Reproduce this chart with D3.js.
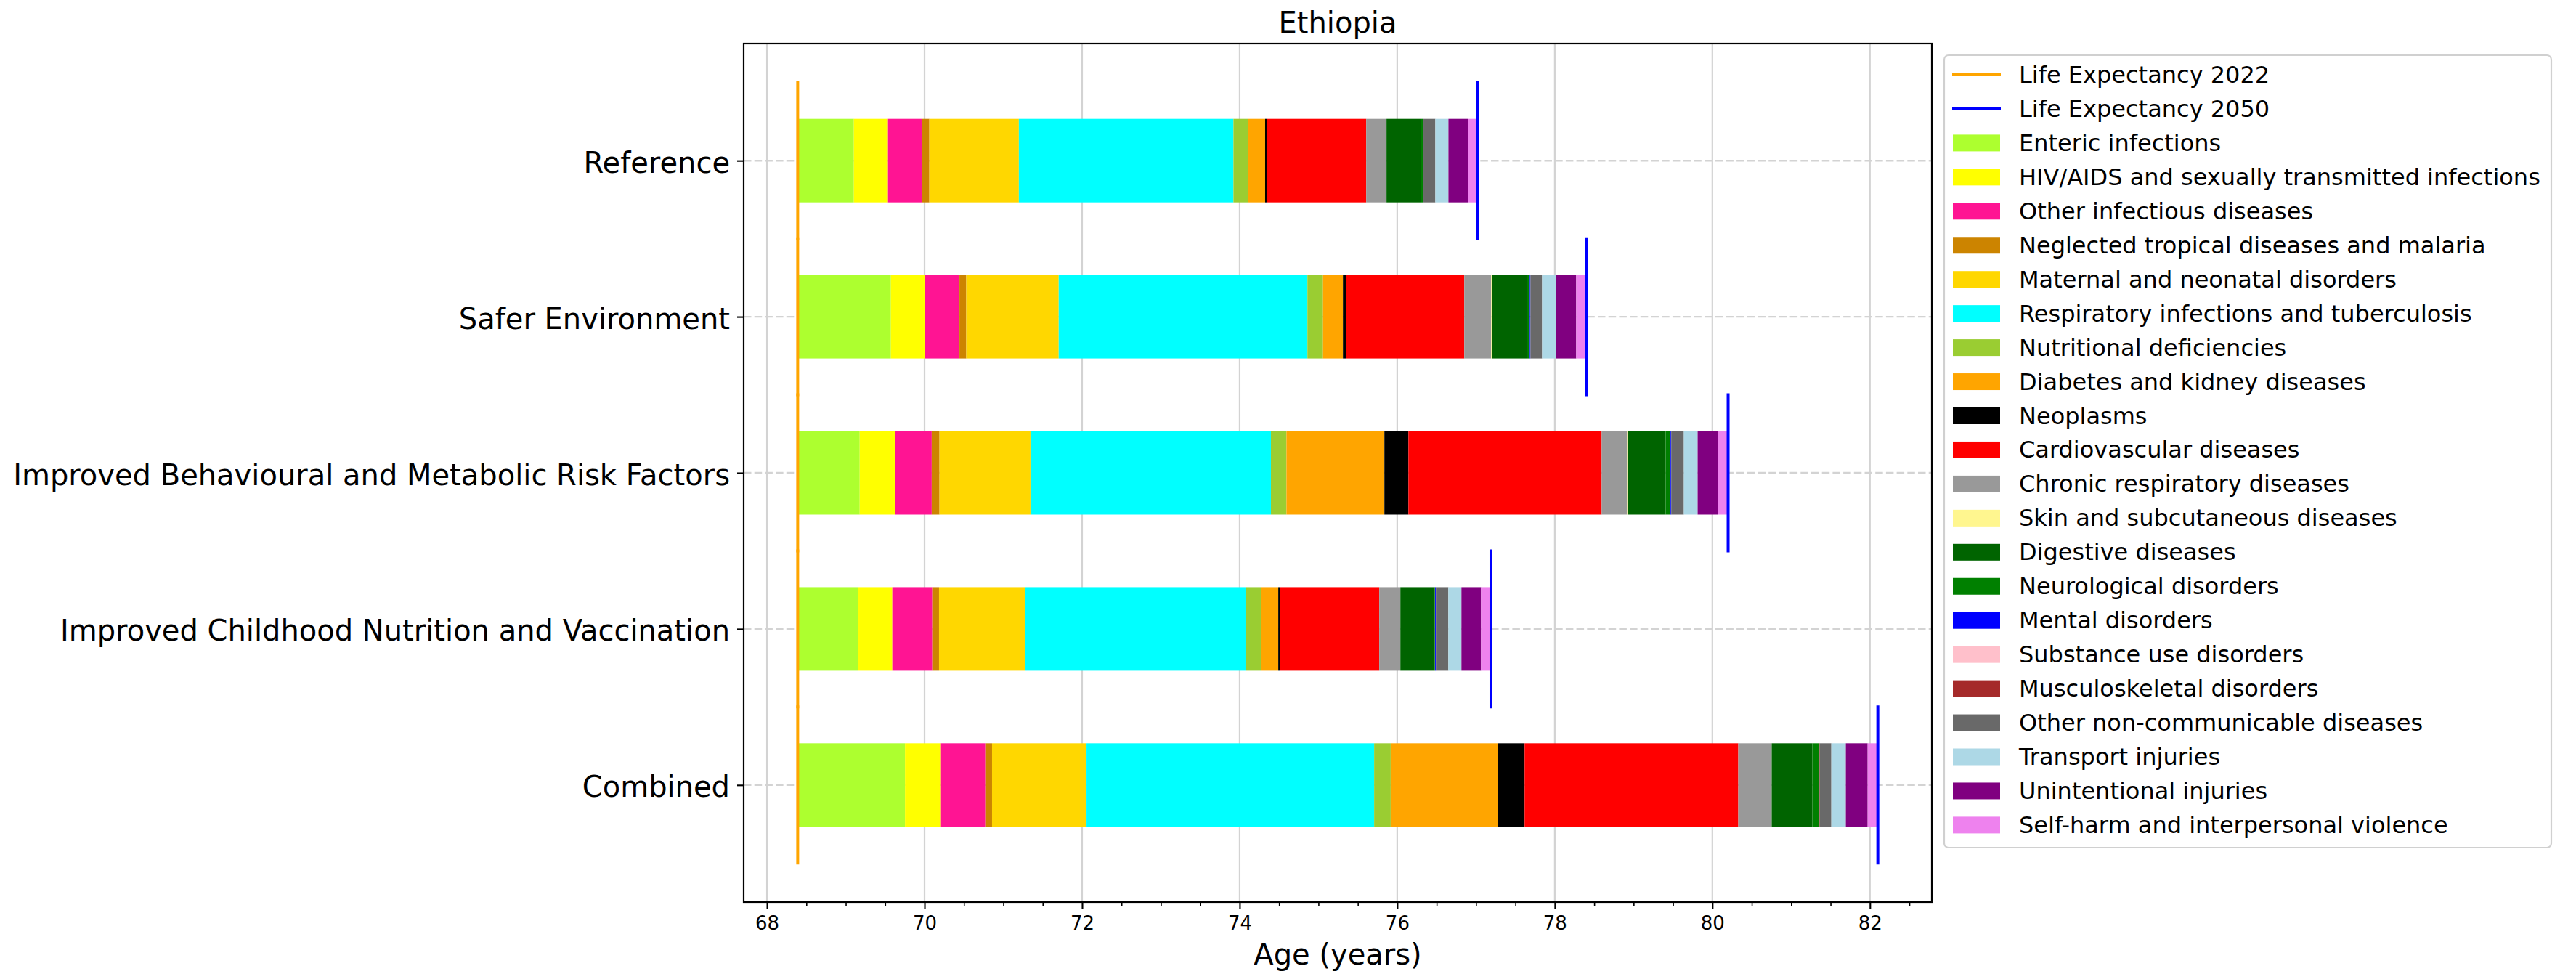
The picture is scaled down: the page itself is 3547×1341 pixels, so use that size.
<!DOCTYPE html>
<html><head><meta charset="utf-8">
<script src="https://cdn.jsdelivr.net/npm/d3@7"></script>
<style>
body{margin:0;background:#fff}
svg text{font-family:"DejaVu Sans",sans-serif;fill:#000}
</style>
</head><body>
<svg id="chart" width="3547" height="1341"></svg>
<script>
// ---------- DATA ----------
const title = "Ethiopia";
const scenarios = ["Reference", "Safer Environment", "Improved Behavioural and Metabolic Risk Factors", "Improved Childhood Nutrition and Vaccination", "Combined"];
const causes = ["Enteric infections", "HIV/AIDS and sexually transmitted infections", "Other infectious diseases", "Neglected tropical diseases and malaria", "Maternal and neonatal disorders", "Respiratory infections and tuberculosis", "Nutritional deficiencies", "Diabetes and kidney diseases", "Neoplasms", "Cardiovascular diseases", "Chronic respiratory diseases", "Skin and subcutaneous diseases", "Digestive diseases", "Neurological disorders", "Mental disorders", "Substance use disorders", "Musculoskeletal disorders", "Other non-communicable diseases", "Transport injuries", "Unintentional injuries", "Self-harm and interpersonal violence"];
const causeColors = ["#adff2f", "#ffff00", "#ff1493", "#cc8400", "#ffd700", "#00ffff", "#9acd32", "#ffa500", "#000000", "#ff0000", "#999999", "#fff68f", "#006400", "#008000", "#0000ff", "#ffc0cb", "#a52a2a", "#696969", "#add8e6", "#800080", "#ee82ee"];
const lifeExp2022 = [68.39, 68.39, 68.39, 68.39, 68.39];
const lifeExp2050 = [77.02, 78.40, 80.20, 77.19, 82.10];
const gainsReference   = [0.713,0.433,0.432,0.093,1.136,2.724,0.186,0.216,0.024,1.259,0.258,0.000,0.434,0.031,0.000,0,0.004,0.151,0.166,0.249,0.122];
const gainsSafer       = [1.183,0.432,0.438,0.087,1.173,3.157,0.198,0.253,0.037,1.503,0.342,0.009,0.443,0.037,0.009,0,0.000,0.148,0.175,0.258,0.128];
const gainsBehavioural = [0.787,0.451,0.463,0.099,1.155,3.052,0.197,1.243,0.305,2.453,0.323,0.009,0.480,0.062,0.009,0,0.000,0.160,0.175,0.258,0.129];
const gainsChildhood   = [0.769,0.432,0.507,0.086,1.094,2.798,0.192,0.222,0.024,1.258,0.268,0.000,0.436,0.005,0.010,0,0.000,0.158,0.166,0.249,0.126];
const gainsCombined    = [1.362,0.457,0.562,0.086,1.199,3.651,0.210,1.359,0.341,2.712,0.424,0.000,0.517,0.080,0.000,0,0.012,0.148,0.184,0.277,0.129];
const xTickValues = [68, 70, 72, 74, 76, 78, 80, 82];
const xLabel = "Age (years)";
const legendLines = ["Life Expectancy 2022", "Life Expectancy 2050"];

// ---------- DRAW ----------
(function draw() {
const W = 3547, H = 1341;
const pL = 1024, pR = 2660, pT = 60, pB = 1242;
const svg = d3.select("#chart");
svg.append("rect").attr("width", W).attr("height", H).attr("fill", "#fff");

const allGains = [gainsReference, gainsSafer, gainsBehavioural, gainsChildhood, gainsCombined];
const rows = scenarios.map((s, i) => {
  const r = {scenario: s, base: lifeExp2022[i]};
  causes.forEach((c, j) => r[c] = allGains[i][j]);
  return r;
});
const stacked = d3.stack().keys(causes)(rows);

const xMin = d3.min(lifeExp2022), xMax = d3.max(lifeExp2050);
const pad = (xMax - xMin) * 0.05;
const x = d3.scaleLinear().domain([xMin - pad, xMax + pad]).range([pL, pR]);
const y = d3.scaleLinear().domain([-0.75, scenarios.length - 0.25]).range([pT, pB]);
const barH = y(0.535) - y(0);

const gridColor = "#d3d3d3";
svg.append("g").selectAll("line").data(xTickValues).join("line")
  .attr("x1", d => x(d)).attr("x2", d => x(d)).attr("y1", pT).attr("y2", pB)
  .attr("stroke", gridColor).attr("stroke-width", 2.2);
svg.append("g").selectAll("line").data(scenarios).join("line")
  .attr("x1", pL).attr("x2", pR).attr("y1", (d, i) => y(i)).attr("y2", (d, i) => y(i))
  .attr("stroke", gridColor).attr("stroke-width", 2.4).attr("stroke-dasharray", "10.5,4.2");

const barsG = svg.append("g");
stacked.forEach((layer, k) => {
  barsG.append("g").attr("fill", causeColors[k]).selectAll("rect").data(layer).join("rect")
    .attr("x", (d, i) => x(rows[i].base + d[0]))
    .attr("width", (d, i) => Math.max(0, x(rows[i].base + d[1]) - x(rows[i].base + d[0])))
    .attr("y", (d, i) => y(i) - barH / 2)
    .attr("height", barH);
});

svg.append("g").selectAll("line").data(lifeExp2022).join("line")
  .attr("x1", d => x(d)).attr("x2", d => x(d))
  .attr("y1", (d, i) => y(i - 0.5)).attr("y2", (d, i) => y(i + 0.5))
  .attr("stroke", "orange").attr("stroke-width", 4).attr("stroke-linecap", "square");
svg.append("g").selectAll("line").data(lifeExp2050).join("line")
  .attr("x1", d => x(d)).attr("x2", d => x(d))
  .attr("y1", (d, i) => y(i - 0.5)).attr("y2", (d, i) => y(i + 0.5))
  .attr("stroke", "blue").attr("stroke-width", 4).attr("stroke-linecap", "square");

const minorTicks = d3.range(67.5, 83, 0.5).filter(v => v >= x.domain()[0] && v <= x.domain()[1] && !xTickValues.includes(v));
const xAxis = svg.append("g").attr("transform", `translate(0,${pB})`)
  .call(d3.axisBottom(x).tickValues(xTickValues).tickFormat(d3.format("d")).tickSize(9).tickPadding(11));
xAxis.select(".domain").remove();
xAxis.selectAll(".tick line").attr("stroke", "#000").attr("stroke-width", 2.1);
xAxis.selectAll(".tick text").attr("font-size", 26).attr("font-family", "DejaVu Sans");
const xMinor = svg.append("g").attr("transform", `translate(0,${pB})`)
  .call(d3.axisBottom(x).tickValues(minorTicks).tickFormat("").tickSize(5.2));
xMinor.select(".domain").remove();
xMinor.selectAll(".tick line").attr("stroke", "#000").attr("stroke-width", 1.6);

const yAxis = svg.append("g").attr("transform", `translate(${pL},0)`)
  .call(d3.axisLeft(y).tickValues(d3.range(scenarios.length)).tickFormat(i => scenarios[i]).tickSize(9).tickPadding(10));
yAxis.select(".domain").remove();
yAxis.selectAll(".tick line").attr("stroke", "#000").attr("stroke-width", 2.1);
yAxis.selectAll(".tick text").attr("font-size", 40).attr("font-family", "DejaVu Sans").attr("dy", "0.4em");

svg.append("rect").attr("x", pL).attr("y", pT).attr("width", pR - pL).attr("height", pB - pT)
  .attr("fill", "none").attr("stroke", "#000").attr("stroke-width", 2.2);

svg.append("text").attr("x", (pL + pR) / 2).attr("y", 45).attr("text-anchor", "middle")
  .attr("font-size", 40).text(title);
svg.append("text").attr("x", (pL + pR) / 2).attr("y", 1328).attr("text-anchor", "middle")
  .attr("font-size", 40).text(xLabel);

const lg = svg.append("g");
const lgLeft = 2677, lgTop = 76, lgRight = 3513, lgBottom = 1167;
lg.append("rect").attr("x", lgLeft).attr("y", lgTop).attr("width", lgRight - lgLeft).attr("height", lgBottom - lgTop)
  .attr("rx", 6).attr("fill", "#fff").attr("stroke", "#d0d0d0").attr("stroke-width", 2.2);
const entries = legendLines.map((t, i) => ({label: t, type: "line", color: i === 0 ? "orange" : "blue"}))
  .concat(causes.map((c, i) => ({label: c, type: "patch", color: causeColors[i]})));
const rowY0 = 103, rowStep = 46.95;
entries.forEach((e, i) => {
  const cy = rowY0 + i * rowStep;
  if (e.type === "line") {
    lg.append("line").attr("x1", 2688).attr("x2", 2755).attr("y1", cy).attr("y2", cy)
      .attr("stroke", e.color).attr("stroke-width", 4);
  } else {
    lg.append("rect").attr("x", 2689).attr("y", cy - 11.5).attr("width", 65).attr("height", 23).attr("fill", e.color);
  }
  lg.append("text").attr("x", 2780).attr("y", cy).attr("dominant-baseline", "central")
    .attr("font-size", 32).text(e.label);
});
})();
</script>
</body></html>
